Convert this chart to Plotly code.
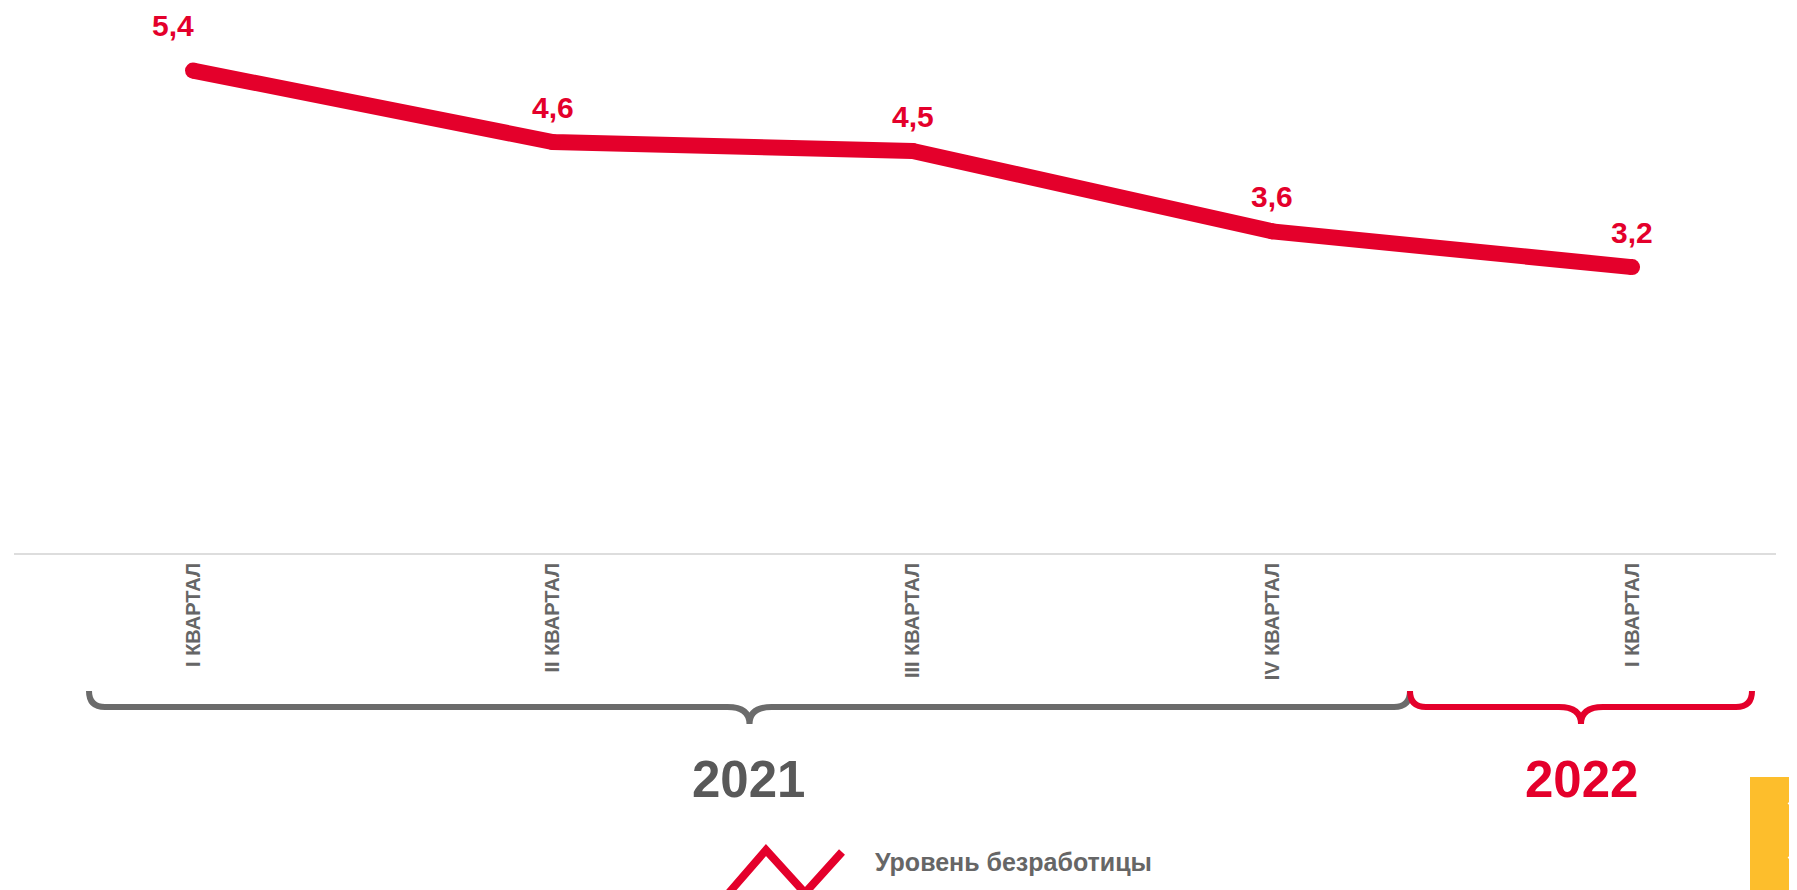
import plotly.graph_objects as go

# data
quarters = ["I КВАРТАЛ", "II КВАРТАЛ", "III КВАРТАЛ", "IV КВАРТАЛ", "I КВАРТАЛ"]
unemployment = [5.4, 4.6, 4.5, 3.6, 3.2]
years = ["2021", "2022"]
legend_name = "Уровень безработицы"

# label nudges (px) so the first label clears the line
label_dx = [-20, 0, 0, 0, 0]
label_dy = [27, 16, 16, 16, 16]

RED = "#E4002B"
GREY_TXT = "#666666"
GREY_YEAR = "#595959"
GREY_BRACE = "#6B6B6B"
FONT = "Liberation Sans, Arial, sans-serif"

OFF = 8  # page body margin
W, H = 1797, 890
L, R, T, B = 6, 29, 0, 345
PW, PH = W - L - R, H - T - B


def px(x, y):
    # screen pixel -> paper coords
    x, y = x - OFF, y - OFF
    return (x - L) / PW, (H - B - y) / PH


def path(points):
    out = []
    for cmd, pts in points:
        s = " ".join("%.5f,%.5f" % px(*p) for p in pts)
        out.append(cmd + " " + s)
    return " ".join(out)


x_idx = list(range(len(quarters)))

fig = go.Figure()
fig.add_trace(go.Scatter(x=x_idx, y=unemployment, mode="lines+markers",
                         line=dict(color=RED, width=16),
                         marker=dict(color=RED, size=16),
                         name=legend_name, showlegend=False, hoverinfo="skip"))

# value labels
for xi, v, dx, dy in zip(x_idx, unemployment, label_dx, label_dy):
    fig.add_annotation(x=xi, y=v, text=("%.1f" % v).replace(".", ","),
                       showarrow=False, yanchor="bottom", yshift=dy, xshift=dx,
                       font=dict(family=FONT, size=30, color=RED, weight="bold"))

shapes = []


def brace(x0, x1, color):
    xm = (x0 + x1) / 2
    yt, yl, yc, r = 691, 707, 724, 16
    return dict(type="path", xref="paper", yref="paper",
                path=path([("M", [(x0, yt)]), ("Q", [(x0, yl), (x0 + r, yl)]),
                           ("L", [(xm - 22, yl)]), ("Q", [(xm, yl), (xm, yc)]),
                           ("Q", [(xm, yl), (xm + 22, yl)]), ("L", [(x1 - r, yl)]),
                           ("Q", [(x1, yl), (x1, yt)])]),
                line=dict(color=color, width=6))


shapes.append(brace(89, 1410, GREY_BRACE))
shapes.append(brace(1410, 1752, RED))

# legend icon
shapes.append(dict(type="path", xref="paper", yref="paper",
                   path=path([("M", [(727, 895)]), ("L", [(766, 850)]),
                              ("L", [(805, 893)]), ("L", [(842, 852)])]),
                   line=dict(color=RED, width=8)))

# page widget in corner
x0, y0 = px(1750, 777)
x1, y1 = px(1805, 890)
shapes.append(dict(type="rect", xref="paper", yref="paper", x0=x0, y0=y0, x1=x1, y1=y1,
                   fillcolor="#FDBE2C", line=dict(width=0)))
shapes.append(dict(type="path", xref="paper", yref="paper",
                   path=path([("M", [(1789, 802)]), ("L", [(1800, 813)])]),
                   line=dict(color="white", width=4)))
shapes.append(dict(type="path", xref="paper", yref="paper",
                   path=path([("M", [(1789, 859)]), ("L", [(1800, 848)])]),
                   line=dict(color="white", width=4)))

fig.update_layout(shapes=shapes)

# year labels
for (cx, txt, col) in [(748, years[0], GREY_YEAR), (1581, years[1], RED)]:
    ax, ay = px(cx, 779)
    fig.add_annotation(x=ax, y=ay, xref="paper", yref="paper", text=txt, showarrow=False,
                       xanchor="center", yanchor="middle",
                       font=dict(family=FONT, size=51, color=col, weight="bold"))

# legend text
lx, ly = px(873, 862)
fig.add_annotation(x=lx, y=ly, xref="paper", yref="paper", text=legend_name, showarrow=False,
                   xanchor="left", yanchor="middle",
                   font=dict(family=FONT, size=25, color=GREY_TXT, weight="bold"))

fig.update_xaxes(range=[-0.4976, 4.4], tickvals=x_idx, ticktext=quarters, tickangle=-90,
                 showgrid=False, zeroline=False, showline=True, linecolor="#DDDDDD", linewidth=2,
                 tickfont=dict(family=FONT, size=20, color=GREY_TXT, weight="bold"),
                 ticks="", ticklabelstandoff=0)
fig.update_yaxes(range=[0, 6.1], visible=False, showgrid=False, zeroline=False)

fig.update_layout(width=W, height=H, margin=dict(l=L, r=R, t=T, b=B),
                  paper_bgcolor="white", plot_bgcolor="white", showlegend=False,
                  font=dict(family=FONT))

fig.write_html("out.html")
